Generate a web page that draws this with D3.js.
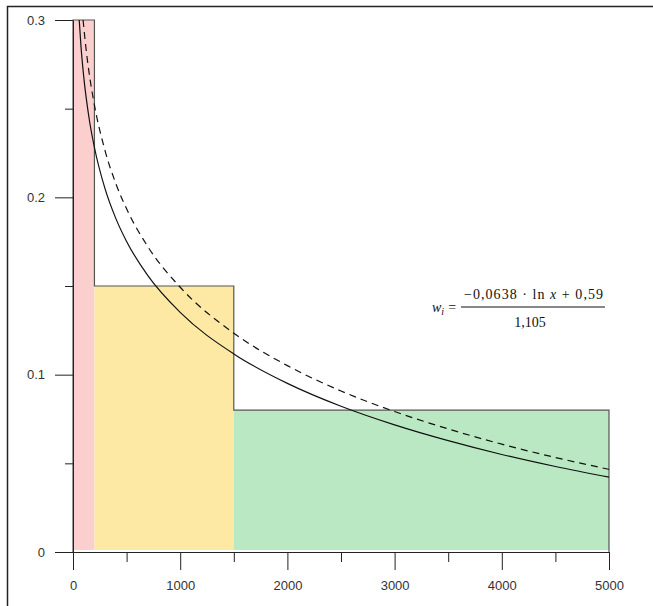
<!DOCTYPE html>
<html lang="en">
<head>
<meta charset="utf-8">
<title>w_i chart</title>
<script src="https://d3js.org/d3.v7.min.js"></script>
<style>
  body { margin: 0; background: #fff; }
</style>
</head>
<body>
<svg width="653" height="606"></svg>
<script>
// bins (x ranges) and their heights
const binEdges = [0, 200, 1500, 5000];
const binValues = [0.3, 0.15, 0.08];

// fitted curve, solid = normalised, dashed = raw
const solidX = [58, 75, 100, 150, 200, 300, 400, 500, 700, 1000, 1500, 2000, 2500, 3000, 3500, 4000, 4500, 5000];
const solidY = [0.300, 0.2847, 0.2681, 0.2446, 0.2281, 0.2046, 0.1880, 0.1751, 0.1557, 0.1351, 0.1117, 0.0951, 0.0822, 0.0717, 0.0628, 0.0550, 0.0482, 0.0422];
const dashedX = [94, 120, 150, 200, 300, 400, 500, 700, 1000, 1500, 2000, 2500, 3000, 3500, 4000, 4500, 5000];
const dashedY = [0.300, 0.2846, 0.2703, 0.2520, 0.2261, 0.2077, 0.1935, 0.1720, 0.1493, 0.1234, 0.1051, 0.0908, 0.0792, 0.0694, 0.0608, 0.0533, 0.0466];

// ticks
const xMajor = [0, 1000, 2000, 3000, 4000, 5000];
const xMinor = [500, 1500, 2500, 3500, 4500];
const yMajor = [0, 0.1, 0.2, 0.3];
const yMinor = [0.05, 0.15, 0.25];
const yLabels = ['0', '0.1', '0.2', '0.3'];

const binColors = ['#fccfcf', '#fde9a3', '#bae8c3'];

const svg = d3.select('svg');

// outer frame (only top and left edges are visible)
svg.append('path')
  .attr('d', 'M7.5,606V6.5H653')
  .attr('fill', 'none')
  .attr('stroke', '#222')
  .attr('stroke-width', 1.5);

const x = d3.scaleLinear().domain([0, 5000]).range([73, 609]);
const y = d3.scaleLinear().domain([0, 0.3]).range([552, 20]);

// bars
svg.append('g')
  .selectAll('rect')
  .data(binValues)
  .enter()
  .append('rect')
  .attr('x', (d, i) => x(binEdges[i]))
  .attr('y', d => y(d))
  .attr('width', (d, i) => x(binEdges[i + 1]) - x(binEdges[i]))
  .attr('height', d => y(0) - y(d) - 2)
  .attr('fill', (d, i) => binColors[i]);

// step outline over the bars
let outline = [[binEdges[0], 0]];
binValues.forEach(function(v, i) {
  outline.push([binEdges[i], v]);
  outline.push([binEdges[i + 1], v]);
});
outline.push([binEdges[binEdges.length - 1], 0]);
svg.append('path')
  .attr('d', d3.line().x(d => x(d[0])).y(d => y(d[1]))(outline))
  .attr('fill', 'none')
  .attr('stroke', '#555')
  .attr('stroke-width', 1.2);

// curves
const line = d3.line().x(d => x(d[0])).y(d => y(d[1])).curve(d3.curveMonotoneX);
svg.append('path')
  .attr('d', line(dashedX.map((v, i) => [v, dashedY[i]])))
  .attr('fill', 'none')
  .attr('stroke', '#111')
  .attr('stroke-width', 1.2)
  .attr('stroke-dasharray', '7,5');
svg.append('path')
  .attr('d', line(solidX.map((v, i) => [v, solidY[i]])))
  .attr('fill', 'none')
  .attr('stroke', '#111')
  .attr('stroke-width', 1.2);

// y axis
svg.append('g')
  .attr('transform', 'translate(' + x(0) + ',0)')
  .call(d3.axisLeft(y).tickValues(yMinor).tickSize(8).tickFormat(''))
  .call(g => g.select('.domain').remove());
svg.append('g')
  .attr('transform', 'translate(' + x(0) + ',0)')
  .call(d3.axisLeft(y).tickValues(yMajor).tickSize(18).tickSizeOuter(0).tickPadding(10)
    .tickFormat((d, i) => yLabels[i]));

// x axis
svg.append('g')
  .attr('transform', 'translate(0,' + y(0) + ')')
  .call(d3.axisBottom(x).tickValues(xMinor).tickSize(10).tickFormat(''))
  .call(g => g.select('.domain').remove());
svg.append('g')
  .attr('transform', 'translate(0,' + y(0) + ')')
  .call(d3.axisBottom(x).tickValues(xMajor).tickSize(18).tickSizeOuter(0).tickPadding(11)
    .tickFormat(d3.format('d')));

svg.selectAll('.domain, .tick line').attr('stroke', '#222');
svg.selectAll('.tick text')
  .attr('font-family', '"Liberation Sans", Arial, sans-serif')
  .attr('font-size', 13)
  .attr('fill', '#333');

// formula
const f = svg.append('g')
  .attr('font-family', '"Liberation Serif", "Times New Roman", serif')
  .attr('font-size', 14)
  .attr('fill', '#111');
const w = f.append('text').attr('x', 432).attr('y', 312);
w.append('tspan').attr('font-style', 'italic').text('w');
w.append('tspan').attr('dy', 3).attr('font-size', 10).attr('font-style', 'italic').text('i');
w.append('tspan').attr('dy', -3).attr('dx', 4).text('=');
const num = f.append('text').attr('x', 464).attr('y', 299)
  .attr('textLength', 139).attr('lengthAdjust', 'spacing');
num.append('tspan').text('−0,0638 · ln ');
num.append('tspan').attr('font-style', 'italic').text('x');
num.append('tspan').text(' + 0,59');
f.append('line')
  .attr('x1', 461).attr('x2', 605)
  .attr('y1', 307).attr('y2', 307)
  .attr('stroke', '#111').attr('stroke-width', 1);
f.append('text').attr('x', 530).attr('y', 327).attr('text-anchor', 'middle').text('1,105');
</script>
</body>
</html>
